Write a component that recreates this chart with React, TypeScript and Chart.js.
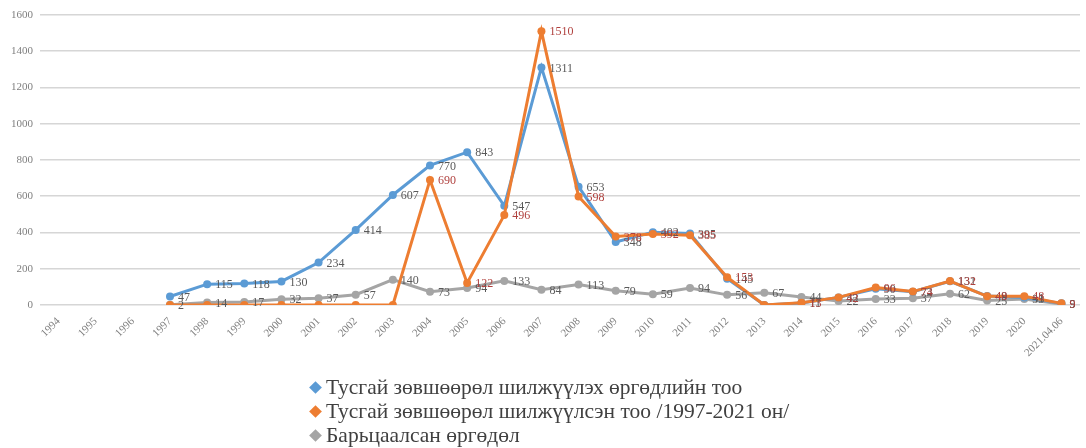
import React, { useEffect, useRef } from "react";
import { Chart, registerables } from "chart.js";

Chart.register(...registerables);

const categories = [
  "1994", "1995", "1996", "1997", "1998", "1999", "2000", "2001", "2002", "2003",
  "2004", "2005", "2006", "2007", "2008", "2009", "2010", "2011", "2012", "2013",
  "2014", "2015", "2016", "2017", "2018", "2019", "2020", "2021.04.06",
];

const requests: (number | null)[] = [
  null, null, null, 47, 115, 118, 130, 234, 414, 607,
  770, 843, 547, 1311, 653, 348, 402, 395, 145, 0,
  11, 42, 90, 73, 131, 49, 41, 9,
];

const transferred: (number | null)[] = [
  null, null, null, 0, 0, 0, 0, 0, 0, 0,
  690, 122, 496, 1510, 598, 378, 392, 385, 153, 0,
  13, 42, 96, 74, 132, 48, 48, 9,
];

const pledged: (number | null)[] = [
  null, null, null, 2, 14, 17, 32, 37, 57, 140,
  73, 94, 133, 84, 113, 79, 59, 94, 56, 67,
  44, 22, 33, 37, 62, 25, 33, 5,
];

const yTicks = [0, 200, 400, 600, 800, 1000, 1200, 1400, 1600];

const seriesNames = [
  "Тусгай зөвшөөрөл шилжүүлэх өргөдлийн тоо",
  "Тусгай зөвшөөрөл шилжүүлсэн тоо /1997-2021 он/",
  "Барьцаалсан өргөдөл",
];
const seriesColors = ["#5B9BD5", "#ED7D31", "#A5A5A5"];
const labelColors = ["#595959", "#B0413E", "#595959"];

const SERIF = "'Liberation Serif', 'DejaVu Serif', serif";

const labelPlugin = {
  id: "valueLabels",
  afterDatasetsDraw(chart: any) {
    const ctx = chart.ctx;
    ctx.save();
    ctx.font = `12px ${SERIF}`;
    ctx.textBaseline = "middle";
    ctx.textAlign = "left";
    const order = [2, 0, 1];
    order.forEach((di) => {
      const meta = chart.getDatasetMeta(di);
      const data = chart.data.datasets[di].data as (number | null)[];
      ctx.fillStyle = labelColors[di];
      meta.data.forEach((pt: any, i: number) => {
        const v = data[i];
        if (v === null || v === undefined) return;
        if (di !== 2 && v === 0) return;
        ctx.fillText(String(v), pt.x + 8, pt.y + 1);
      });
    });
    ctx.restore();
  },
};

export default function App() {
  const ref = useRef<HTMLCanvasElement | null>(null);

  useEffect(() => {
    document.body.style.margin = "0";
    if (!ref.current) return;
    const datasets = [requests, transferred, pledged].map((d, i) => ({
      label: seriesNames[i],
      data: d,
      borderColor: seriesColors[i],
      backgroundColor: seriesColors[i],
      borderWidth: 3,
      pointRadius: 4,
      pointHoverRadius: 4,
      pointBorderWidth: 0,
      tension: 0,
      spanGaps: false,
      order: i === 1 ? 0 : i === 0 ? 1 : 2,
    }));
    const chart = new Chart(ref.current, {
      type: "line",
      data: { labels: categories, datasets },
      plugins: [labelPlugin],
      options: {
        animation: false,
        responsive: false,
        devicePixelRatio: 1,
        layout: { padding: { top: 15, right: 6, left: 0, bottom: 0 } },
        plugins: { legend: { display: false }, tooltip: { enabled: false } },
        scales: {
          x: {
            offset: true,
            grid: { display: false },
            border: { display: false },
            ticks: {
              color: "#7f7f7f",
              font: { family: SERIF, size: 11 },
              minRotation: 45,
              maxRotation: 45,
              autoSkip: false,
              padding: 2,
            },
            afterFit: (scale: any) => {
              scale.height = 143;
            },
          },
          y: {
            min: 0,
            max: 1600,
            afterBuildTicks: (scale: any) => {
              scale.ticks = yTicks.map((v) => ({ value: v }));
            },
            grid: { color: "#d6d6d6", lineWidth: 1.6, drawTicks: false },
            border: { display: false },
            ticks: {
              color: "#7f7f7f",
              font: { family: SERIF, size: 11 },
              padding: 7,
              callback: (v: any) => String(v),
            },
            afterFit: (scale: any) => {
              scale.width = 40;
            },
          },
        },
      },
    });
    return () => chart.destroy();
  }, []);

  return (
    <div style={{ position: "relative", width: 1086, height: 448, overflow: "hidden", background: "#fff" }}>
      <canvas ref={ref} width={1086} height={448} style={{ display: "block" }} />
      <div style={{ position: "absolute", left: 311, top: 375, fontFamily: SERIF, fontSize: 21.5, color: "#404040", lineHeight: "24px" }}>
        {seriesNames.map((n, i) => (
          <div key={i} style={{ display: "flex", alignItems: "center", whiteSpace: "nowrap" }}>
            <span style={{ display: "inline-block", width: 9, height: 9, background: seriesColors[i], transform: "rotate(45deg)", marginRight: 6 }} />
            <span>{n}</span>
          </div>
        ))}
      </div>
    </div>
  );
}
